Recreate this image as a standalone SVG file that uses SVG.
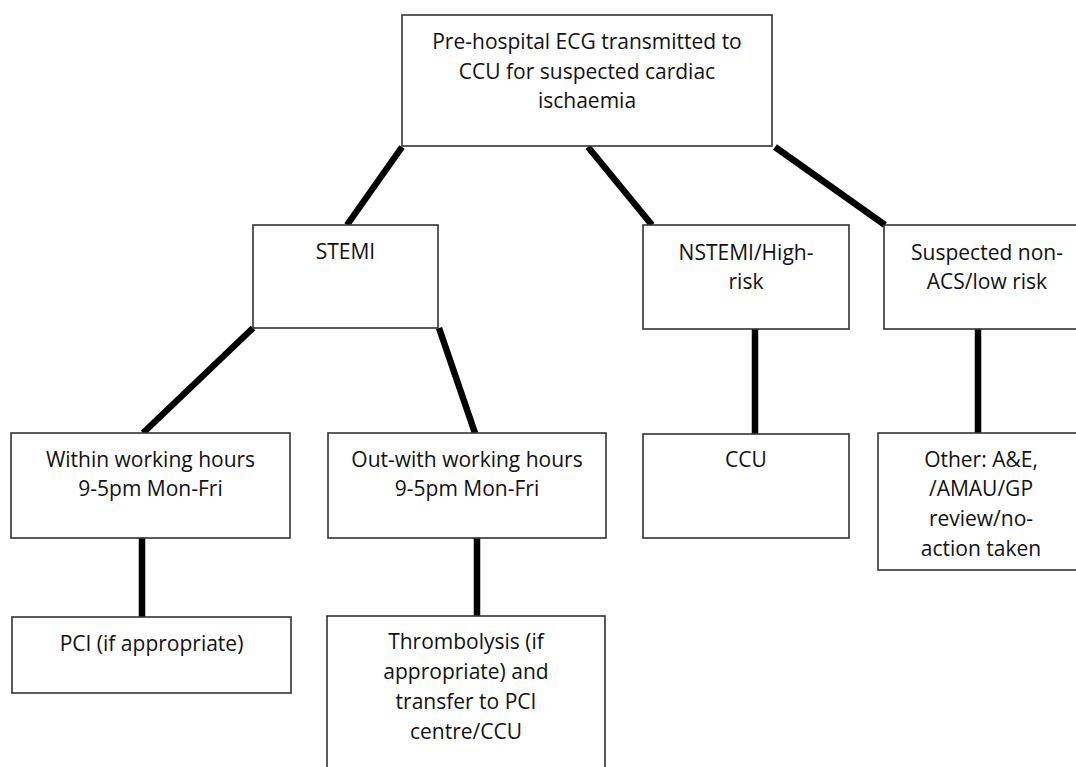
<svg xmlns="http://www.w3.org/2000/svg" width="1076" height="767" viewBox="0 0 1076 767">
<style>
.box{fill:#fff;stroke:#333;stroke-width:1.6}
.t{font-family:"Open Sans","Noto Sans","Liberation Sans",sans-serif;font-size:21px;fill:#111;text-anchor:middle}
.c{stroke:#000;stroke-width:6.5;stroke-linecap:butt;fill:none}
</style>
<rect width="1076" height="767" fill="#fff"/>
<g id="connectors">
<line class="c" x1="402" y1="147" x2="347" y2="225"/>
<line class="c" x1="588" y1="147" x2="652" y2="225"/>
<line class="c" x1="775" y1="147" x2="885" y2="225"/>
<line class="c" x1="253" y1="328" x2="143" y2="433"/>
<line class="c" x1="439" y1="328" x2="475" y2="433"/>
<line class="c" x1="142" y1="538" x2="142" y2="617"/>
<line class="c" x1="477" y1="538" x2="477" y2="616"/>
<line class="c" x1="755" y1="329" x2="755" y2="434"/>
<line class="c" x1="978" y1="329" x2="978" y2="433"/>
</g>
<g id="root">
<rect class="box" x="402" y="15" width="370" height="131"/>
<text class="t" x="587" y="49">Pre-hospital ECG transmitted to</text>
<text class="t" x="587" y="79">CCU for suspected cardiac</text>
<text class="t" x="587" y="108">ischaemia</text>
</g>
<g id="stemi">
<rect class="box" x="253" y="225" width="185" height="103"/>
<text class="t" x="345.5" y="259">STEMI</text>
</g>
<g id="nstemi">
<rect class="box" x="643" y="225" width="206" height="104"/>
<text class="t" x="746" y="260">NSTEMI/High-</text>
<text class="t" x="746" y="289">risk</text>
</g>
<g id="nonacs">
<rect class="box" x="884" y="225" width="206" height="104"/>
<text class="t" x="987" y="260">Suspected non-</text>
<text class="t" x="987" y="289">ACS/low risk</text>
</g>
<g id="within">
<rect class="box" x="11" y="433" width="279" height="105"/>
<text class="t" x="150.5" y="467">Within working hours</text>
<text class="t" x="150.5" y="496">9-5pm Mon-Fri</text>
</g>
<g id="outwith">
<rect class="box" x="328" y="433" width="278" height="105"/>
<text class="t" x="467" y="467">Out-with working hours</text>
<text class="t" x="467" y="496">9-5pm Mon-Fri</text>
</g>
<g id="ccu">
<rect class="box" x="643" y="434" width="206" height="104"/>
<text class="t" x="746" y="467">CCU</text>
</g>
<g id="other">
<rect class="box" x="878" y="433" width="207" height="137"/>
<text class="t" x="981" y="467">Other: A&amp;E,</text>
<text class="t" x="981" y="496">/AMAU/GP</text>
<text class="t" x="981" y="526">review/no-</text>
<text class="t" x="981" y="556">action taken</text>
</g>
<g id="pci">
<rect class="box" x="12" y="617" width="279" height="76"/>
<text class="t" x="151.5" y="651">PCI (if appropriate)</text>
</g>
<g id="thrombolysis">
<rect class="box" x="327" y="616" width="278" height="170"/>
<text class="t" x="466" y="649">Thrombolysis (if</text>
<text class="t" x="466" y="679">appropriate) and</text>
<text class="t" x="466" y="709">transfer to PCI</text>
<text class="t" x="466" y="739">centre/CCU</text>
</g>
</svg>
